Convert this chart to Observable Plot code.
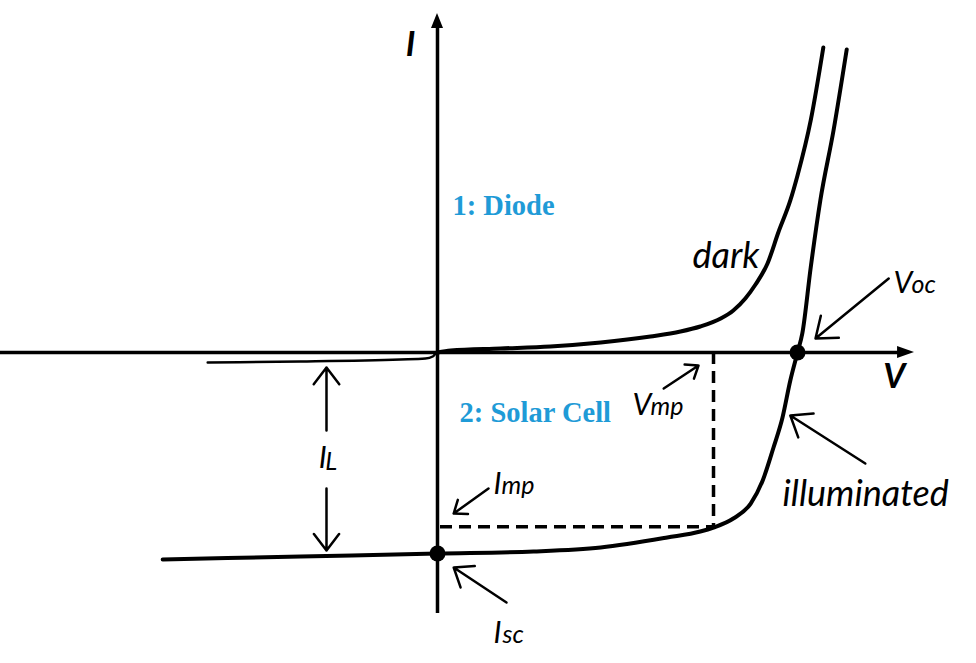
<!DOCTYPE html>
<html><head><meta charset="utf-8">
<script src="https://cdn.jsdelivr.net/npm/d3@7"></script>
<script src="https://cdn.jsdelivr.net/npm/@observablehq/plot@0.6"></script>
<style>body{margin:0;background:#fff}svg{display:block;background:#fff}</style>
</head><body><div id="chart"></div>
<script>
// Dark (diode) I-V curve
const darkV = [-0.383,-0.228,-0.062,-0.020,-0.008,-0.003,0,0.022,0.105,0.188,0.272,0.355,0.405,0.438,0.472,0.493,0.513,0.530,0.550,0.568,0.588,0.600,0.622,0.643];
const darkI = [-0.149,-0.134,-0.104,-0.090,-0.060,-0.015,0,0.030,0.060,0.090,0.149,0.239,0.313,0.388,0.507,0.627,0.806,1.015,1.328,1.791,2.269,2.642,3.463,4.552];
// Illuminated (solar cell) I-V curve
const illumV = [-0.458,-0.228,0,0.160,0.272,0.383,0.438,0.460,0.493,0.522,0.542,0.560,0.575,0.588,0.600,0.608,0.622,0.638,0.660,0.682];
const illumI = [-3.090,-3.045,-3.000,-2.970,-2.910,-2.761,-2.672,-2.612,-2.478,-2.254,-1.910,-1.418,-0.970,-0.418,0,0.284,1.269,2.269,3.313,4.522];
// Key points
const Voc = 0.6, Isc = -3.0, Vmp = 0.46, Imp = -2.60;
// Axis extents
const vMin = -0.7283, vMax = 0.8983, iMin = -4.6418, iMax = 5.2537;
const vAxisEnd = 0.775, iAxisEnd = 4.85, iAxisBottom = -3.896;

// Pointer arrows: [from V, from I, to V, to I]
const pointerNames = ["Voc","Vmp","Imp","Isc","illuminated","IL up","IL down"];
const pointerV1 = [0.752, 0.377, 0.085, 0.115, 0.713, -0.185, -0.185];
const pointerI1 = [1.104, -0.537, -2.030, -3.731, -1.657, -1.164, -2.030];
const pointerV2 = [0.630, 0.435, 0.027, 0.027, 0.588, -0.185, -0.185];
const pointerI2 = [0.209, -0.194, -2.403, -3.209, -0.940, -0.224, -2.955];

// Labels
const blueText = ["1: Diode", "2: Solar Cell"];
const blueV = [0.025, 0.0367];
const blueI = [2.045, -1.030];
const wordText = ["dark", "illuminated"];
const wordV = [0.425, 0.575];
const wordI = [1.254, -2.284];
const symText = ["V", "V", "I", "I", "I"];
const symV = [0.760, 0.325, 0.0933, 0.0933, -0.198];
const symI = [0.881, -0.940, -2.119, -4.343, -1.731];
const subText = ["oc", "mp", "mp", "sc", "L"];
const subV = [0.790, 0.355, 0.1067, 0.1083, -0.187];
const subI = [0.881, -0.940, -2.119, -4.343, -1.761];
const axisText = ["I", "V"];
const axisV = [-0.053, 0.743];
const axisI = [4.418, -0.537];

const dark = darkV.map((v, k) => ({V: v, I: darkI[k]}));
const illum = illumV.map((v, k) => ({V: v, I: illumI[k]}));
const pointers = pointerNames.map((n, k) => ({n, x1: pointerV1[k], y1: pointerI1[k], x2: pointerV2[k], y2: pointerI2[k]}));
const tab = (t, v, i) => t.map((s, k) => ({s, V: v[k], I: i[k]}));

const hx = 0.7667, hy = 0.0896, vy = 4.836, vx = 0.01;
const xHead = [{V: hx, lo: -hy, hi: hy}, {V: 0.795, lo: 0, hi: 0}];
const yHead = [{I: vy, lo: -vx, hi: vx}, {I: 5.06, lo: 0, hi: 0}];

const italic = "Lato, 'Open Sans', sans-serif";
const chart = Plot.plot({
  width: 976, height: 663,
  marginTop: 0, marginRight: 0, marginBottom: 0, marginLeft: 0,
  x: {domain: [vMin, vMax], axis: null},
  y: {domain: [iMin, iMax], axis: null},
  marks: [
    Plot.ruleY([0], {x1: vMin, x2: vAxisEnd, stroke: "black", strokeWidth: 3.5}),
    Plot.ruleX([0], {y1: iAxisBottom, y2: iAxisEnd, stroke: "black", strokeWidth: 3.5}),
    Plot.areaY(xHead, {x: "V", y1: "lo", y2: "hi", fill: "black"}),
    Plot.areaX(yHead, {y: "I", x1: "lo", x2: "hi", fill: "black"}),
    Plot.ruleX([Vmp], {y1: 0, y2: Imp, stroke: "black", strokeWidth: 3.5, strokeDasharray: "12,7"}),
    Plot.ruleY([Imp], {x1: 0.005, x2: Vmp, stroke: "black", strokeWidth: 3.5, strokeDasharray: "12,7"}),
    Plot.line(dark.filter(d => d.V <= 0), {x: "V", y: "I", curve: "monotone-x", stroke: "black", strokeWidth: 2.5}),
    Plot.line(dark.filter(d => d.V >= 0), {x: "V", y: "I", curve: "monotone-x", stroke: "black", strokeWidth: 4}),
    Plot.line(illum, {x: "V", y: "I", curve: "monotone-x", stroke: "black", strokeWidth: 4}),
    Plot.dot([{V: Voc, I: 0}, {V: 0, I: Isc}], {x: "V", y: "I", r: 8, fill: "black"}),
    Plot.arrow(pointers, {x1: "x1", y1: "y1", x2: "x2", y2: "y2", stroke: "black", strokeWidth: 2.5, headLength: 14, headAngle: 75}),
    Plot.text(tab(blueText, blueV, blueI), {x: "V", y: "I", text: "s", textAnchor: "start", lineAnchor: "bottom",
      fill: "#1f9bd7", fontFamily: "'Liberation Serif', 'Times New Roman', serif", fontWeight: "bold", fontSize: 28.5}),
    Plot.text(tab(wordText, wordV, wordI), {x: "V", y: "I", text: "s", textAnchor: "start", lineAnchor: "bottom",
      fill: "black", fontFamily: italic, fontStyle: "italic", fontSize: 36}),
    Plot.text(tab(symText, symV, symI), {x: "V", y: "I", text: "s", textAnchor: "start", lineAnchor: "bottom",
      fill: "black", fontFamily: italic, fontStyle: "italic", fontSize: 30}),
    Plot.text(tab(subText, subV, subI), {x: "V", y: "I", text: "s", textAnchor: "start", lineAnchor: "bottom",
      fill: "black", fontFamily: italic, fontStyle: "italic", fontSize: 25}),
    Plot.text(tab(axisText, axisV, axisI), {x: "V", y: "I", text: "s", textAnchor: "start", lineAnchor: "bottom",
      fill: "black", fontFamily: italic, fontStyle: "italic", fontWeight: "bold", fontSize: 34})
  ]
});
document.getElementById("chart").appendChild(chart);
</script>
</body></html>
